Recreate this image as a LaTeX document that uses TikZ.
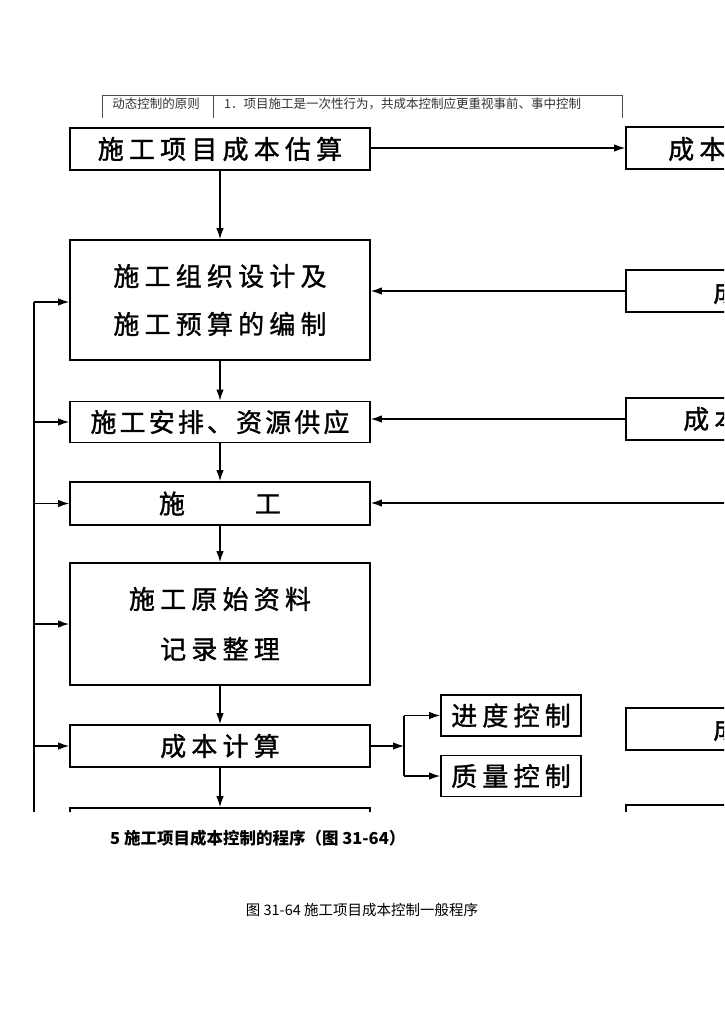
\documentclass[tikz,border=0pt]{standalone}
\usepackage{fontspec}
\setmainfont{Noto Sans CJK SC}
\newfontfamily\bx[LetterSpace=20,FakeBold=1.2]{Noto Sans CJK SC}
\newfontfamily\bxn[LetterSpace=12,FakeBold=1.2]{Noto Sans CJK SC}
\usetikzlibrary{arrows.meta}
\begin{document}
\begin{tikzpicture}[x=1pt,y=-1pt,
  box/.style={draw,line width=1.7pt,minimum width=300pt,inner sep=0pt,align=center,
    font=\bx\fontsize{26}{48}\selectfont},
  rbox/.style={draw,line width=1.7pt,minimum width=140pt,inner sep=0pt},
  sbox/.style={draw,line width=1.7pt,minimum width=140pt,minimum height=41pt,inner sep=0pt,
    font=\bx\fontsize{26}{30}\selectfont},
  rtxt/.style={anchor=west,inner sep=0pt,font=\bx\fontsize{26}{30}\selectfont},
  arr/.style={-{Latex[length=11pt,width=7.5pt]},line width=1.3pt},
  tline/.style={draw=black!70,line width=0.8pt},
  ttxt/.style={inner sep=0pt,text=black!80,font=\fontsize{12.5}{15}\selectfont}]
\useasboundingbox (0,0) rectangle (724,1024);
\fill[white] (0,0) rectangle (724,1024);

% top table fragment
\draw[tline] (102,118) -- (102,95) -- (622,95) -- (622,118);
\draw[tline] (213,95) -- (213,118);
\node[ttxt] (t1) at (156,104) {动态控制的原则};
\node[ttxt,anchor=west] (t2) at (224,104) {1．项目施工是一次性行为，共成本控制应更重视事前、事中控制};

\begin{scope}
\clip (0,0) rectangle (724,811);
% main column
\node[box,minimum height=42pt] (B1) at (220,149) {施工项目成本估算};
\node[box,minimum height=120pt] (B2) at (220,300) {施工组织设计及\\施工预算的编制};
\node[box,minimum height=41pt,font=\bxn\fontsize{26}{30}\selectfont] (B3) at (220,422) {施工安排、资源供应};
\node[box,minimum height=43pt] (B4) at (220,503.5) {施\hspace{70pt}工};
\node[box,minimum height=122pt,font=\bx\fontsize{26}{50}\selectfont] (B5) at (220,624) {施工原始资料\\记录整理};
\node[box,minimum height=42pt] (B6) at (220,746) {成本计算};
\node[box,minimum height=44pt] (B7) at (220,830) {};

% right column (cut off by the page edge)
\node[rbox,minimum height=42pt] (R1) at (696,148) {};
\node[rtxt] (R1t) at (668,149) {成本};
\node[rbox,minimum height=42pt] (R2) at (696,291) {};
\node[rtxt] (R2t) at (713,292) {成};
\node[rbox,minimum height=42pt] (R3) at (696,419) {};
\node[rtxt] (R3t) at (683,419) {成本};
\node[rbox,minimum height=42pt] (R4) at (696,729) {};
\node[rtxt] (R4t) at (713,729) {成};
\node[rbox,minimum height=44pt] (R5) at (696,827) {};

% side boxes
\node[sbox] (P1) at (511,715.5) {进度控制};
\node[sbox] (P2) at (511,776) {质量控制};

% downward arrows
\draw[arr] (B1) -- (B2);
\draw[arr] (B2) -- (B3);
\draw[arr] (B3) -- (B4);
\draw[arr] (B4) -- (B5);
\draw[arr] (B5) -- (B6);
\draw[arr] (B6) -- (B7);

% right-side arrows
\draw[arr] (B1.east |- R1.west) -- (R1.west);
\draw[arr] (R2.west) -- (R2.west -| B2.east);
\draw[arr] (R3.west) -- (R3.west -| B3.east);
\coordinate (E4) at (730,503);
\draw[arr] (E4) -- (E4 -| B4.east);

% branch to progress / quality control
\coordinate (J) at (404,746);
\draw[arr] (B6.east) -- (J);
\draw[line width=1.3pt] (J |- P1.west) -- (J |- P2.west);
\draw[arr] (J |- P1.west) -- (P1.west);
\draw[arr] (J |- P2.west) -- (P2.west);

% left feedback line
\coordinate (F1) at (34,302);
\coordinate (F2) at (34,830);
\draw[line width=1.3pt] (F1) -- (F2);
\draw[arr] (F1) -- (F1 -| B2.west);
\draw[arr] (F1 |- B3.west) -- (B3.west);
\draw[arr] (F1 |- B4.west) -- (B4.west);
\draw[arr] (F1 |- B5.west) -- (B5.west);
\draw[arr] (F1 |- B6.west) -- (B6.west);
\end{scope}

% captions
\node[inner sep=0pt,anchor=west,font=\bfseries\fontsize{16.5}{19}\selectfont] (cap1) at (110,838) {5 施工项目成本控制的程序（图 31-64）};
\node[inner sep=0pt,font=\fontsize{14.5}{17}\selectfont] (cap2) at (362,910) {图 31-64 施工项目成本控制一般程序};
\end{tikzpicture}
\end{document}
